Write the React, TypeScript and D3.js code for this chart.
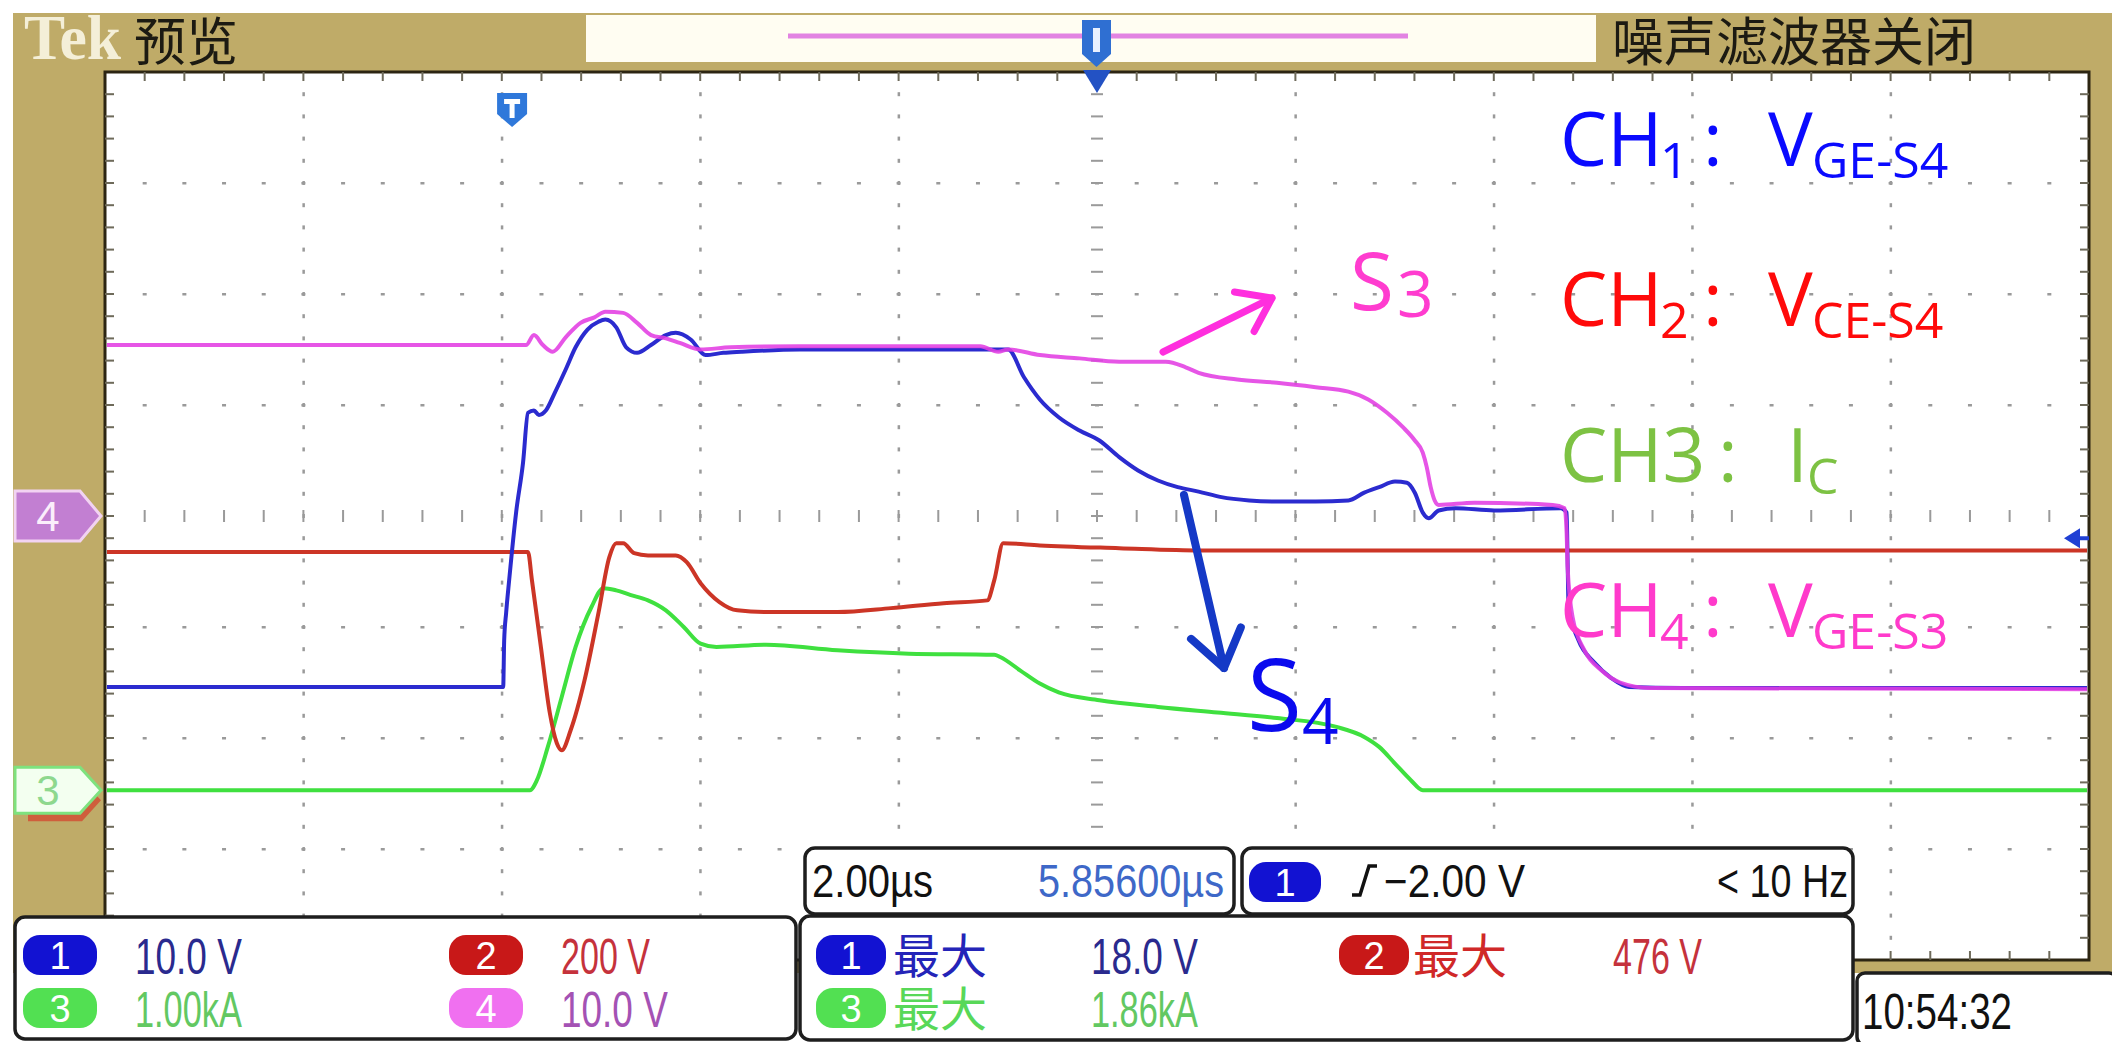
import { useRef, useEffect } from 'react';
import * as d3 from 'd3';

const W = 2112;
const H = 1042;

// scope settings
const timePerDiv = 2; // µs / div
const hPosition = 5.856; // µs, centre of the screen after the trigger
const chScale = [10, 200, 1, 10]; // CH1 V/div, CH2 V/div, CH3 kA/div, CH4 V/div
const chGround = [0, -2.56, -2.47, 0]; // ground marker, divisions from centre
const traceColors = ['#2b2bcf', '#cc3526', '#3fe03f', '#e23de2'];

// traces: [time µs, value]
const ch1Trace: [number, number][] = [
  [-4.2, -15.4], [-0.13, -15.4], [-0.12, -11.2], [-0.1, -8.7], [-0.07, -5.8], [0, 0.3], [0.07, 4.8],
  [0.12, 9.3], [0.18, 9.5], [0.23, 9.1], [0.3, 9.5], [0.39, 11.1], [0.5, 13.2], [0.6, 15.2], [0.72, 16.8],
  [0.83, 17.5], [0.9, 17.7], [1.01, 17.0], [1.11, 15.2], [1.22, 14.7], [1.36, 15.4], [1.51, 16.3],
  [1.61, 16.5], [1.76, 15.9], [1.91, 14.5], [2.09, 14.7], [2.27, 14.8], [2.86, 15.0], [3.87, 15.0],
  [4.96, 15.0], [5.12, 12.5], [5.28, 10.5], [5.47, 8.9], [5.68, 7.7], [5.88, 6.8], [6.08, 5.3], [6.27, 4.1],
  [6.47, 3.2], [6.67, 2.6], [6.88, 2.2], [7.11, 1.7], [7.39, 1.4], [7.67, 1.3], [8.06, 1.3], [8.39, 1.4],
  [8.55, 2.1], [8.7, 2.6], [8.86, 3.1], [8.98, 3.0], [9.06, 2.1], [9.14, 0.3], [9.2, -0.2], [9.3, 0.5],
  [9.47, 0.7], [9.86, 0.5], [10.53, 0.7], [10.59, 0.3], [10.6, -4.0], [10.61, -8.2], [10.71, -11.2],
  [10.87, -13.2], [11.04, -14.6], [11.22, -15.4], [11.76, -15.5], [15.9, -15.5],
];

const ch2Trace: [number, number][] = [
  [-4.2, 447], [0.12, 447], [0.16, 396], [0.25, 276], [0.34, 157], [0.41, 103], [0.46, 90], [0.55, 126],
  [0.69, 216], [0.83, 337], [0.94, 438], [1.01, 463], [1.08, 463], [1.19, 445], [1.33, 441], [1.61, 441],
  [1.72, 429], [1.86, 391], [2.05, 357], [2.23, 342], [2.52, 339], [3.24, 339], [3.78, 346], [4.31, 355],
  [4.75, 360], [4.82, 396], [4.91, 463], [5.28, 459], [6.08, 454], [6.9, 450], [15.9, 450],
];

const ch3Trace: [number, number][] = [
  [-4.2, 0], [0.14, 0], [0.21, 0.09], [0.32, 0.39], [0.46, 0.84], [0.6, 1.29], [0.76, 1.65], [0.88, 1.82],
  [1.01, 1.8], [1.15, 1.76], [1.33, 1.71], [1.51, 1.62], [1.69, 1.47], [1.86, 1.32], [2.02, 1.29],
  [2.52, 1.31], [3.24, 1.26], [3.96, 1.23], [4.82, 1.22], [4.88, 1.2], [5.08, 1.08], [5.28, 0.96],
  [5.47, 0.88], [5.88, 0.81], [6.47, 0.75], [7.07, 0.7], [7.67, 0.65], [8.27, 0.57], [8.55, 0.48],
  [8.7, 0.39], [8.86, 0.24], [9.02, 0.09], [9.14, 0], [15.9, 0],
];

const ch4Trace: [number, number][] = [
  [-4.2, 15.4], [0.1, 15.4], [0.18, 16.3], [0.27, 15.4], [0.37, 14.8], [0.5, 16.1], [0.65, 17.4],
  [0.79, 17.9], [0.9, 18.4], [1.08, 18.3], [1.22, 17.4], [1.36, 16.3], [1.51, 16.0], [1.65, 15.6],
  [1.86, 15.0], [2.16, 15.2], [2.86, 15.3], [3.87, 15.3], [4.68, 15.3], [4.86, 14.8], [4.96, 15.0],
  [5.28, 14.5], [5.68, 14.2], [6.08, 13.9], [6.55, 13.9], [6.75, 13.4], [6.88, 12.9], [7.27, 12.3],
  [7.67, 12.0], [8.06, 11.6], [8.39, 11.2], [8.59, 10.5], [8.78, 9.3], [8.94, 8.0], [9.06, 6.8],
  [9.14, 5.7], [9.18, 4.4], [9.22, 2.6], [9.26, 1.4], [9.3, 1.0], [9.66, 1.2], [10.45, 1.0], [10.57, 0.7],
  [10.59, -1.5], [10.6, -4.6], [10.65, -9.1], [10.77, -12.1], [10.94, -13.9], [11.13, -15.0],
  [11.43, -15.5], [15.9, -15.6],
];

// texts
const legendMain = ['CH', 'CH', 'CH3', 'CH'];
const legendIndex = ['1', '2', '', '4'];
const legendSymbol = ['V', 'V', 'I', 'V'];
const legendSub = ['GE-S4', 'CE-S4', 'C', 'GE-S3'];
const legendColors = ['#0a0aff', '#ff0a0a', '#7dc243', '#ff3acb'];
const scaleLabels = ['10.0 V', '200 V', '1.00kA', '10.0 V'];
const scaleColors = ['#2a2a8e', '#c5323c', '#62c862', '#a452b4'];
const badgeColors = ['#1212d2', '#c81818', '#52e052', '#f070f0'];
const maxLabels = ['18.0 V', '476 V', '1.86kA'];
const maxWordColors = ['#2424b8', '#d02828', '#58d858'];

const SANS = '"Open Sans", "Noto Sans", sans-serif';
const NARROW = '"Liberation Sans Narrow", "Liberation Sans", Arial, sans-serif';
const CJK = '"Noto Sans CJK SC", sans-serif';
const TAN = '#bfab68';

export default function App() {
  const svgRef = useRef<SVGSVGElement>(null);

  useEffect(() => {
    if (!svgRef.current) return;
    const svg = d3.select(svgRef.current);
    svg.selectAll('*').remove();

    const plot = { left: 105, right: 2089, top: 72, bottom: 960 };
    const xDiv = (plot.right - plot.left) / 10;
    const yDiv = (plot.bottom - plot.top) / 8;

    const xScale = d3.scaleLinear()
      .domain([hPosition - 5 * timePerDiv, hPosition + 5 * timePerDiv])
      .range([plot.left, plot.right]);
    const yScale = d3.scaleLinear().domain([-4, 4]).range([plot.bottom, plot.top]);

    const txt = (g: any, s: string, x: number, y: number, size: number, fill: string, family = SANS, len?: number) => {
      const t = g.append('text')
        .attr('x', x).attr('y', y)
        .attr('font-size', size).attr('fill', fill)
        .attr('font-family', family)
        .text(s);
      if (len) t.attr('textLength', len).attr('lengthAdjust', 'spacingAndGlyphs');
      return t;
    };

    svg.append('rect').attr('width', W).attr('height', H).attr('fill', '#fff');

    // Frame
    svg.append('rect').attr('x', 13).attr('y', 13).attr('width', W - 13).attr('height', 960).attr('fill', TAN);
    svg.append('rect').attr('x', 586).attr('y', 15).attr('width', 1010).attr('height', 47).attr('fill', '#fffdf2');
    svg.append('line').attr('x1', 788).attr('x2', 1408).attr('y1', 36).attr('y2', 36)
      .attr('stroke', '#e283e2').attr('stroke-width', 5);
    txt(svg, 'Tek', 24, 59, 64, '#f4efd8', '"Liberation Serif", serif', 97).attr('font-weight', 'bold');
    txt(svg, '预览', 134, 61, 52, '#1c1a12', CJK);
    txt(svg, '噪声滤波器关闭', 1612, 61, 52, '#1c1a12', CJK);

    // Plot area
    svg.append('rect')
      .attr('x', plot.left).attr('y', plot.top)
      .attr('width', plot.right - plot.left).attr('height', plot.bottom - plot.top)
      .attr('fill', '#fff').attr('stroke', '#2c2512').attr('stroke-width', 3);

    // Graticule
    const grid = svg.append('g').attr('fill', '#9a9a9a');
    for (let k = 1; k < 10; k++) {
      const x = plot.left + k * xDiv;
      for (let m = 1; m < 40; m++) {
        const y = plot.top + (m * yDiv) / 5;
        if (k === 5) grid.append('rect').attr('x', x - 6).attr('y', y - 1).attr('width', 12).attr('height', 2);
        else grid.append('rect').attr('x', x - 1).attr('y', y - 2).attr('width', 2.5).attr('height', 4);
      }
    }
    for (let j = 1; j < 8; j++) {
      const y = plot.top + j * yDiv;
      for (let m = 1; m < 50; m++) {
        const x = plot.left + (m * xDiv) / 5;
        if (j === 4) grid.append('rect').attr('x', x - 1).attr('y', y - 6).attr('width', 2).attr('height', 12);
        else grid.append('rect').attr('x', x - 2).attr('y', y - 1).attr('width', 4).attr('height', 2.5);
      }
    }
    const ticks = svg.append('g').attr('fill', '#6e6a5a');
    for (let m = 1; m < 50; m++) {
      const x = plot.left + (m * xDiv) / 5;
      ticks.append('rect').attr('x', x - 1).attr('y', plot.top).attr('width', 2).attr('height', 9);
      ticks.append('rect').attr('x', x - 1).attr('y', plot.bottom - 9).attr('width', 2).attr('height', 9);
    }
    for (let m = 1; m < 40; m++) {
      const y = plot.top + (m * yDiv) / 5;
      ticks.append('rect').attr('x', plot.left).attr('y', y - 1).attr('width', 9).attr('height', 2);
      ticks.append('rect').attr('x', plot.right - 9).attr('y', y - 1).attr('width', 9).attr('height', 2);
    }

    // Traces
    svg.append('defs').append('clipPath').attr('id', 'plot-clip')
      .append('rect').attr('x', plot.left + 2).attr('y', plot.top + 2)
      .attr('width', plot.right - plot.left - 4).attr('height', plot.bottom - plot.top - 4);

    const traces = [ch1Trace, ch2Trace, ch3Trace, ch4Trace];
    const order = [2, 1, 0, 3];
    const tg = svg.append('g').attr('clip-path', 'url(#plot-clip)');
    order.forEach((ci) => {
      const line = d3.line<[number, number]>()
        .x((d) => xScale(d[0]))
        .y((d) => yScale(d[1] / chScale[ci] + chGround[ci]))
        .curve(d3.curveMonotoneX);
      tg.append('path')
        .datum(traces[ci])
        .attr('fill', 'none')
        .attr('stroke', traceColors[ci])
        .attr('stroke-width', 4)
        .attr('stroke-opacity', ci === 3 ? 0.88 : 1)
        .attr('stroke-linejoin', 'round')
        .attr('d', line);
    });

    // Markers: ground levels on the left
    const marker = (y: number, fill: string, stroke: string, label: string, color: string, h = 50) => {
      const g = svg.append('g');
      g.append('path')
        .attr('d', `M15,${y - h / 2}H80L101,${y}L80,${y + h / 2}H15Z`)
        .attr('fill', fill).attr('stroke', stroke).attr('stroke-width', 3);
      txt(g, label, 48, y + 15, 42, color, NARROW).attr('text-anchor', 'middle');
    };
    const y2 = yScale(chGround[1]);
    const y3 = yScale(chGround[2]);
    svg.append('path')
      .attr('d', `M28,${y2 - 20}H82L101,${y2}L82,${y2 + 21}H28Z`)
      .attr('fill', '#cf5e3c');
    marker(yScale(chGround[3]), '#c27fd2', '#f2d3f2', '4', '#fbeefb');
    marker(y3, '#f3fff0', '#7ee27e', '3', '#8ed88e', 46);

    // Trigger position and expansion markers
    svg.append('path').attr('d', 'M1082,20H1111V54L1096.5,67L1082,54Z').attr('fill', '#2f6fd2');
    svg.append('rect').attr('x', 1093).attr('y', 28).attr('width', 7).attr('height', 24).attr('fill', '#e8f0ff');
    svg.append('path').attr('d', 'M1083,70H1111L1097,93Z').attr('fill', '#2352c4');
    const tx = xScale(0) - 4;
    svg.append('path').attr('d', `M${tx - 15},93H${tx + 15}V114L${tx},127L${tx - 15},114Z`).attr('fill', '#2f78da');
    svg.append('path').attr('d', `M${tx - 8},99H${tx + 8}V104H${tx + 2.5}V118H${tx - 2.5}V104H${tx - 8}Z`).attr('fill', '#fff');

    // Trigger level arrow on the right
    const ty = yScale(-2 / chScale[0] + chGround[0]);
    svg.append('path').attr('d', `M2064,${ty}L2080,${ty - 10}V${ty - 2}H2089V${ty + 2}H2080V${ty + 10}Z`).attr('fill', '#2040d4');

    // Annotation arrows
    const arrow = (x1: number, y1: number, x2: number, y2: number, color: string, w: number, head: number) => {
      const a = Math.atan2(y2 - y1, x2 - x1);
      const p = (da: number) => [x2 - head * Math.cos(a + da), y2 - head * Math.sin(a + da)];
      const [ax, ay] = p(0.62);
      const [bx, by] = p(-0.62);
      const g = svg.append('g').attr('stroke', color).attr('stroke-width', w).attr('fill', 'none')
        .attr('stroke-linecap', 'round').attr('stroke-linejoin', 'round');
      g.append('line').attr('x1', x1).attr('y1', y1).attr('x2', x2).attr('y2', y2);
      g.append('path').attr('d', `M${ax},${ay}L${x2},${y2}L${bx},${by}`);
    };
    arrow(1163, 352, 1272, 298, '#ff2ede', 7, 38);
    arrow(1184, 495, 1224, 668, '#1539c6', 8, 44);

    txt(svg, 'S', 1350, 310, 80, '#ff3ccf');
    txt(svg, '3', 1397, 317, 64, '#ff3ccf');
    txt(svg, 'S', 1247, 731, 100, '#0a0aee');
    txt(svg, '4', 1302, 744, 64, '#0a0aee');

    // Channel legend
    const baselines = [166, 326, 482, 637];
    legendMain.forEach((m, i) => {
      const g = svg.append('g').attr('fill', legendColors[i]).attr('font-family', SANS);
      const b = baselines[i];
      const isI = legendSymbol[i] === 'I';
      g.append('text').attr('x', 1560).attr('y', b).attr('font-size', 75).text(m);
      if (legendIndex[i]) g.append('text').attr('x', 1660).attr('y', b + 12).attr('font-size', 50).text(legendIndex[i]);
      g.append('text').attr('x', isI ? 1718 : 1703).attr('y', b).attr('font-size', 75).text(':');
      g.append('text').attr('x', isI ? 1787 : 1768).attr('y', b).attr('font-size', 75).text(legendSymbol[i]);
      g.append('text').attr('x', isI ? 1807 : 1812).attr('y', b + 12).attr('font-size', 50).text(legendSub[i]);
    });

    // Bottom panels
    const panel = (x: number, y: number, w: number, h: number) =>
      svg.append('rect').attr('x', x).attr('y', y).attr('width', w).attr('height', h).attr('rx', 10)
        .attr('fill', '#fff').attr('stroke', '#1e1e1e').attr('stroke-width', 3.5);
    const badge = (x: number, cy: number, fill: string, label: string, w = 72) => {
      svg.append('rect').attr('x', x).attr('y', cy - 20).attr('width', w).attr('height', 40).attr('rx', 17).attr('fill', fill);
      txt(svg, label, x + w / 2, cy + 14, 38, '#fff', NARROW).attr('text-anchor', 'middle');
    };

    panel(805, 848, 429, 66);
    panel(1242, 848, 611, 66);
    panel(15, 917, 781, 122);
    panel(800, 916, 1053, 124);
    svg.append('rect').attr('x', 1857).attr('y', 973).attr('width', 260).attr('height', 72)
      .attr('rx', 8).attr('fill', '#fff').attr('stroke', '#1e1e1e').attr('stroke-width', 3.5);

    txt(svg, '2.00µs', 812, 897, 46, '#111', NARROW, 121);
    txt(svg, '5.85600µs', 1038, 897, 46, '#3e68c8', NARROW, 186);
    badge(1249, 882, badgeColors[0], '1');
    svg.append('path').attr('d', 'M1352,895H1360L1369,866H1377').attr('fill', 'none').attr('stroke', '#111').attr('stroke-width', 3.5);
    txt(svg, '−2.00 V', 1384, 897, 46, '#111', NARROW, 141);
    txt(svg, '< 10 Hz', 1717, 897, 46, '#111', NARROW, 131);

    const rowY = [955, 1008];
    const colX = [23, 449];
    scaleLabels.forEach((s, i) => {
      const r = Math.floor(i / 2);
      const c = i % 2;
      badge(colX[c], rowY[r], badgeColors[i], String(i + 1), 74);
      txt(svg, s, colX[c] + 112, rowY[r] + 19, 50, scaleColors[i], NARROW, s.length * 17.8);
    });

    const maxCols = [[816, 895, 1091], [1339, 1415, 1613], [816, 895, 1091]];
    const maxRows = [955, 955, 1008];
    const maxBadge = [0, 1, 2];
    maxLabels.forEach((s, i) => {
      const [bx, wx, vx] = maxCols[i];
      const y = maxRows[i];
      badge(bx, y, badgeColors[maxBadge[i]], String(maxBadge[i] + 1), 70);
      txt(svg, '最大', wx - 2, y + 18, 47, maxWordColors[i], CJK);
      txt(svg, s, vx, y + 19, 50, scaleColors[maxBadge[i]], NARROW, s.length * 17.8);
    });

    txt(svg, '10:54:32', 1862, 1029, 50, '#111', NARROW, 150);
  }, []);

  return (
    <svg
      ref={svgRef}
      width={W}
      height={H}
      style={{ position: 'absolute', left: 0, top: 0, display: 'block' }}
    />
  );
}
